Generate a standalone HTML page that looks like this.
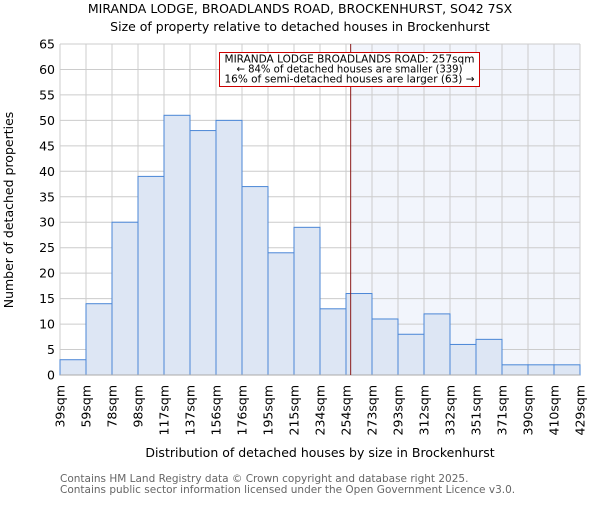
<!DOCTYPE html>
<html><head><meta charset="utf-8"><style>
body{margin:0;background:#fff}
svg{font-family:"DejaVu Sans","Liberation Sans",sans-serif}
</style></head><body>
<svg id="chart" width="600" height="500" viewBox="0 0 600 500" xmlns="http://www.w3.org/2000/svg">
<text x="300" y="13" text-anchor="middle" font-size="12.5">MIRANDA LODGE, BROADLANDS ROAD, BROCKENHURST, SO42 7SX</text>
<text x="300" y="31" text-anchor="middle" font-size="12.5">Size of property relative to detached houses in Brockenhurst</text>
<g id="plot"></g>
<text x="320" y="457" text-anchor="middle" font-size="12.5">Distribution of detached houses by size in Brockenhurst</text>
<text transform="translate(13,210) rotate(-90)" text-anchor="middle" font-size="12.5">Number of detached properties</text>
<text x="60" y="482" font-size="10.5" fill="#666">Contains HM Land Registry data © Crown copyright and database right 2025.</text>
<text x="60" y="493" font-size="10.5" fill="#666">Contains public sector information licensed under the Open Government Licence v3.0.</text>
</svg>
<script>
const binLabels=["39sqm","59sqm","78sqm","98sqm","117sqm","137sqm","156sqm","176sqm","195sqm","215sqm","234sqm","254sqm","273sqm","293sqm","312sqm","332sqm","351sqm","371sqm","390sqm","410sqm","429sqm"];
const binStarts=[39,58.5,78,97.5,117,136.5,156,175.5,195,214.5,234,253.5,273,292.5,312,331.5,351,370.5,390,409.5,429];
const counts=[3,14,30,39,51,48,50,37,24,29,13,16,11,8,12,6,7,2,2,2];
const yTicks=[0,5,10,15,20,25,30,35,40,45,50,55,60,65];
const propertySize=257;
const NS="http://www.w3.org/2000/svg";
const X0=60,X1=580,Y0=375,Y1=44;
const xMin=binStarts[0],xMax=binStarts[binStarts.length-1];
const xs=v=>X0+(v-xMin)/(xMax-xMin)*(X1-X0);
const ys=v=>Y0-v/65*(Y0-Y1);
const g=document.getElementById('plot');
function mk(t,a){const e=document.createElementNS(NS,t);for(const k in a)e.setAttribute(k,a[k]);g.appendChild(e);return e;}
const px=xs(propertySize);
let e=mk('rect',{x:px,y:Y1,width:X1-px,height:Y0-Y1,fill:'#f2f5fc'});


yTicks.forEach(t=>{
 let l=mk('line',{x1:X0,x2:X1,y1:ys(t),y2:ys(t),stroke:'#ccc','stroke-width':1});
 
 
 let tx=mk('text',{x:X0-5,y:ys(t)+4.5,'text-anchor':'end','font-size':12.5});
 tx.textContent=t;
 
 
});
binStarts.forEach((b,i)=>{
 let l=mk('line',{x1:xs(b),x2:xs(b),y1:Y1,y2:Y0,stroke:'#ccc','stroke-width':1});
 
 
 let tx=mk('text',{transform:`translate(${xs(b)+4.5},${Y0+10}) rotate(-90)`,'text-anchor':'end','font-size':12.5});
 tx.textContent=binLabels[i];
 
 
});
counts.forEach((c,i)=>{
 const x=xs(binStarts[i]),w=xs(binStarts[i+1])-x;
 let r=mk('rect',{x:x,y:ys(c),width:w,height:Y0-ys(c),fill:'#dde6f4',stroke:'#4a86d6','stroke-width':1});
 
 
});
e=mk('line',{x1:X0,x2:X1,y1:Y0,y2:Y0,stroke:'#aaa'});


e=mk('line',{x1:px,x2:px,y1:Y1,y2:Y0,stroke:'#8b1a1a','stroke-width':1});


e=mk('rect',{x:219.5,y:52.5,width:260,height:34,fill:'#fff',stroke:'#c00','stroke-width':1});


["MIRANDA LODGE BROADLANDS ROAD: 257sqm","← 84% of detached houses are smaller (339)","16% of semi-detached houses are larger (63) →"].forEach((s,i)=>{
 let t=mk('text',{x:349.5,y:62.5+i*10,'text-anchor':'middle','font-size':10.8,textLength:(i==1?226:250),lengthAdjust:'spacingAndGlyphs'});
 t.textContent=s;
 
 
});
</script>
</body></html>
